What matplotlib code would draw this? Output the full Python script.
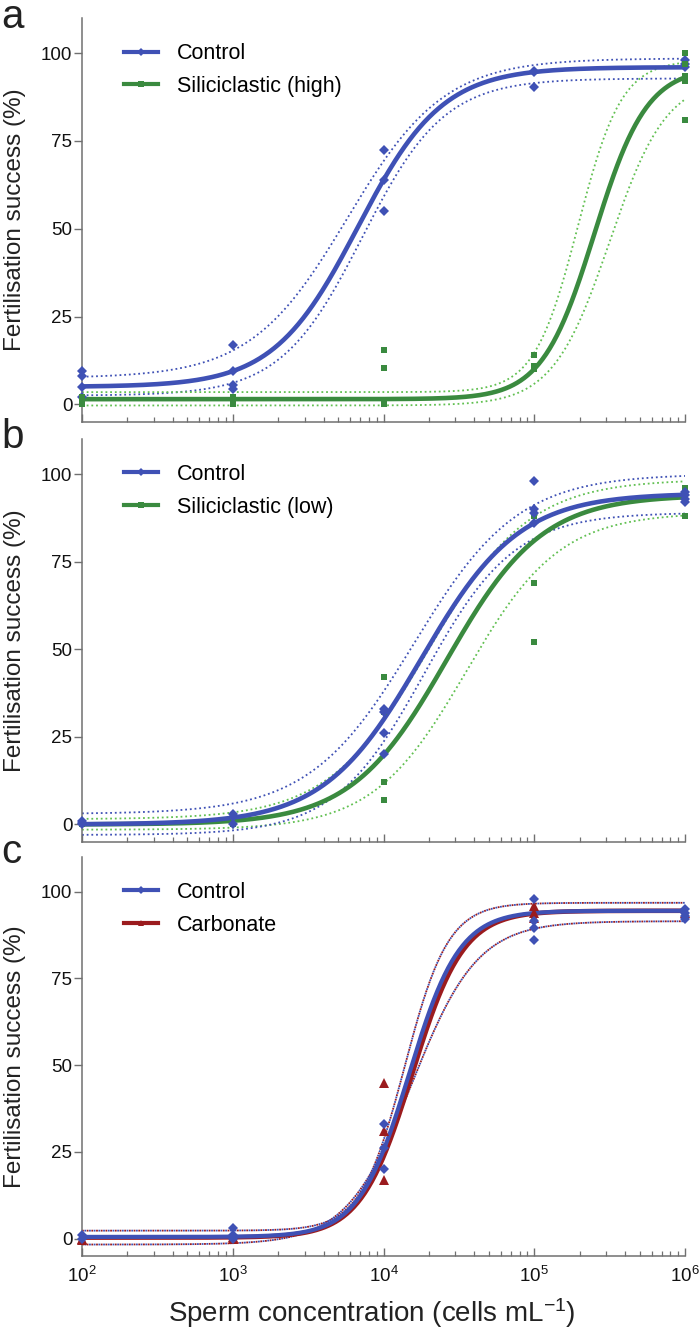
import numpy as np
import matplotlib
matplotlib.use("Agg")
import matplotlib.pyplot as plt
from matplotlib.lines import Line2D
from matplotlib.ticker import LogLocator, FixedLocator, NullFormatter

plt.rcParams['font.family'] = ['Liberation Sans', 'DejaVu Sans']
plt.rcParams['mathtext.fontset'] = 'custom'
plt.rcParams['mathtext.rm'] = 'Liberation Sans'
plt.rcParams['mathtext.it'] = 'Liberation Sans'

# ---------------- data ----------------
# Panel a: Control vs Siliciclastic (high)
ctrl_a_x = [1e2, 1e2, 1e2, 1e2, 1e3, 1e3, 1e3, 1e3, 1e4, 1e4, 1e4, 1e5, 1e5, 1e5, 1e6, 1e6, 1e6]
ctrl_a_y = [9.5, 8, 5, 2, 17, 9.5, 5.5, 4.5, 72.5, 64, 55, 95, 94.5, 90.5, 98, 97, 96]
silh_x = [1e2, 1e2, 1e2, 1e3, 1e3, 1e3, 1e4, 1e4, 1e4, 1e4, 1e5, 1e5, 1e5, 1e6, 1e6, 1e6, 1e6, 1e6]
silh_y = [2, 1, 0, 2, 1, 0, 15.5, 10.5, 1, 0, 14, 11, 10, 100, 97, 93.5, 92, 81]

# Panel b: Control vs Siliciclastic (low)
ctrl_b_x = [1e2, 1e2, 1e2, 1e3, 1e3, 1e3, 1e4, 1e4, 1e4, 1e4, 1e5, 1e5, 1e5, 1e5, 1e6, 1e6, 1e6, 1e6]
ctrl_b_y = [1, 0.5, 0, 3, 2, 0, 33, 32, 26, 20, 98, 90, 89, 86, 95, 94, 93, 92]
sill_x = [1e2, 1e2, 1e3, 1e3, 1e4, 1e4, 1e4, 1e4, 1e5, 1e5, 1e5, 1e6, 1e6, 1e6]
sill_y = [0, 0.5, 1, 0, 42, 32, 12, 7, 88, 69, 52, 96, 94, 88]

# Panel c: Control vs Carbonate
ctrl_c_x = [1e2, 1e2, 1e3, 1e3, 1e3, 1e4, 1e4, 1e4, 1e5, 1e5, 1e5, 1e5, 1e6, 1e6, 1e6, 1e6]
ctrl_c_y = [1, 0, 3, 1, 0, 33, 26, 20, 98, 91.5, 89.5, 86, 95, 94, 93, 92]
carb_x = [1e2, 1e2, 1e3, 1e3, 1e4, 1e4, 1e4, 1e5, 1e5, 1e5, 1e6]
carb_y = [0, -0.5, 0.5, 0, 45, 31, 17, 96, 94, 92.5, 94]

# fitted dose-response curves: [bottom, top, logEC50, hill slope]
fit_ctrl_a = [5, 96, 3.83, 1.55]
upper_ctrl_a = [7.5, 98.5, 3.76, 1.35]
lower_ctrl_a = [2.5, 92.8, 3.86, 1.6]
fit_silh = [1.5, 96, 5.40, 2.5]
upper_silh = [3.5, 98, 5.29, 3.0]
lower_silh = [-0.3, 93, 5.50, 2.3]

fit_ctrl_b = [0, 94.5, 4.25, 1.34]
upper_ctrl_b = [3, 100, 4.20, 1.25]
lower_ctrl_b = [-3, 89, 4.27, 1.45]
fit_sill = [0, 94, 4.42, 1.37]
upper_sill = [1.5, 98.5, 4.30, 1.3]
lower_sill = [-1.5, 89, 4.55, 1.4]

fit_ctrl_c = [0.5, 94.5, 4.17, 2.6]
fit_carb = [0.3, 94.5, 4.19, 2.55]
upper_c = [2.3, 96.8, 4.14, 3.0]
lower_c = [-1.7, 91.5, 4.19, 2.0]

y_ticks = [0, 25, 50, 75, 100]
x_ticks = [1e2, 1e3, 1e4, 1e5, 1e6]
x_ticklabels = ['10$^{2}$', '10$^{3}$', '10$^{4}$', '10$^{5}$', '10$^{6}$']

# ---------------- style ----------------
BLUE = '#3F51B5'
GREEN = '#3A8A3F'
LGREEN = '#62C052'
RED = '#9B1B1E'
SPINE = '#707070'


def logistic(logx, p):
    b, t, L, h = p
    return b + (t - b) / (1 + 10 ** ((L - logx) * h))


logx = np.linspace(2, 6, 500)
xx = 10 ** logx

fig = plt.figure(figsize=(7, 13.34), dpi=100)
W, H = 700, 1334
left, right = 82, 685
panels = [(18, 422), (439, 842), (857, 1256)]
axes = []
for top, bot in panels:
    ax = fig.add_axes([left / W, 1 - bot / H, (right - left) / W, (bot - top) / H])
    axes.append(ax)


def style_axis(ax, show_xlabels):
    ax.set_xscale('log')
    ax.set_xlim(1e2, 1e6)
    ax.set_ylim(-5, 110)
    for s in ['top', 'right']:
        ax.spines[s].set_visible(False)
    for s in ['left', 'bottom']:
        ax.spines[s].set_color(SPINE)
        ax.spines[s].set_linewidth(1.1)
    ax.yaxis.set_major_locator(FixedLocator(y_ticks))
    ax.set_yticklabels([str(v) for v in y_ticks])
    ax.tick_params(axis='y', direction='out', length=6, width=1.0, color=SPINE,
                   labelsize=13.5, pad=1, labelcolor='#111111')
    ax.xaxis.set_major_locator(FixedLocator(x_ticks))
    ax.xaxis.set_minor_locator(LogLocator(base=10, subs=np.arange(2, 10)))
    ax.xaxis.set_minor_formatter(NullFormatter())
    ax.tick_params(axis='x', which='major', direction='in', length=6, width=1.0, color=SPINE,
                   labelsize=13.5, pad=7, labelcolor='#111111')
    ax.tick_params(axis='x', which='minor', direction='in', length=3.5, width=0.9, color=SPINE)
    if show_xlabels:
        ax.set_xticklabels(x_ticklabels)
    else:
        ax.set_xticklabels([])


def band(ax, p, color, offset=0):
    ax.plot(xx, logistic(logx, p), color=color, lw=1.3, linestyle=(offset, (1, 1.6)),
            zorder=2)


def curve(ax, p, color, lw=3.3):
    ax.plot(xx, logistic(logx, p), color=color, lw=lw, zorder=3, solid_capstyle='butt')


def points(ax, x, y, color, marker, ms):
    ax.plot(x, y, linestyle='none', marker=marker, color=color, ms=ms, mew=0,
            zorder=5, clip_on=False)


def legend(ax, labels, colors, markers):
    handles = [Line2D([0], [0], color=c, lw=3.0, marker=m, ms=4.5, mew=0)
               for c, m in zip(colors, markers)]
    ax.legend(handles, labels, loc='upper left', bbox_to_anchor=(0.07, 0.938),
              frameon=False, fontsize=15.5, handlelength=1.55, handletextpad=0.9,
              labelspacing=0.55, borderpad=0, borderaxespad=0)


# Panel a
ax = axes[0]
style_axis(ax, False)
band(ax, upper_ctrl_a, BLUE); band(ax, lower_ctrl_a, BLUE)
band(ax, upper_silh, LGREEN); band(ax, lower_silh, LGREEN)
curve(ax, fit_ctrl_a, BLUE); curve(ax, fit_silh, GREEN)
points(ax, ctrl_a_x, ctrl_a_y, BLUE, 'D', 5)
points(ax, silh_x, silh_y, GREEN, 's', 5)
legend(ax, ['Control', 'Siliciclastic (high)'], [BLUE, GREEN], ['D', 's'])

# Panel b
ax = axes[1]
style_axis(ax, False)
band(ax, upper_sill, LGREEN); band(ax, lower_sill, LGREEN)
band(ax, upper_ctrl_b, BLUE); band(ax, lower_ctrl_b, BLUE)
curve(ax, fit_sill, GREEN); curve(ax, fit_ctrl_b, BLUE)
points(ax, sill_x, sill_y, GREEN, 's', 5)
points(ax, ctrl_b_x, ctrl_b_y, BLUE, 'D', 5)
legend(ax, ['Control', 'Siliciclastic (low)'], [BLUE, GREEN], ['D', 's'])

# Panel c
ax = axes[2]
style_axis(ax, True)
band(ax, upper_c, RED); band(ax, lower_c, RED)
band(ax, upper_c, BLUE, 1.3); band(ax, lower_c, BLUE, 1.3)
curve(ax, fit_carb, RED); curve(ax, fit_ctrl_c, BLUE, lw=3.0)
points(ax, carb_x, carb_y, RED, '^', 6.5)
points(ax, ctrl_c_x, ctrl_c_y, BLUE, 'D', 5)
legend(ax, ['Control', 'Carbonate'], [BLUE, RED], ['D', '^'])

# x label
fig.text(372 / W, 1 - 1313 / H, 'Sperm concentration (cells mL$^{-1}$)', fontsize=20,
         ha='center', va='center', color='#222222')

# y labels and panel letters
for (top, bot), letter, base in zip(panels, ['a', 'b', 'c'], [28, 448, 863]):
    fig.text(15 / W, 1 - (top + bot) / 2 / H, 'Fertilisation success (%)', rotation=90,
             ha='center', va='center', fontsize=17.5, color='#222222')
    fig.text(1 / W, 1 - base / H, letter, ha='left', va='baseline', fontsize=29,
             color='#222222')

fig.savefig('out.png', dpi=100)
